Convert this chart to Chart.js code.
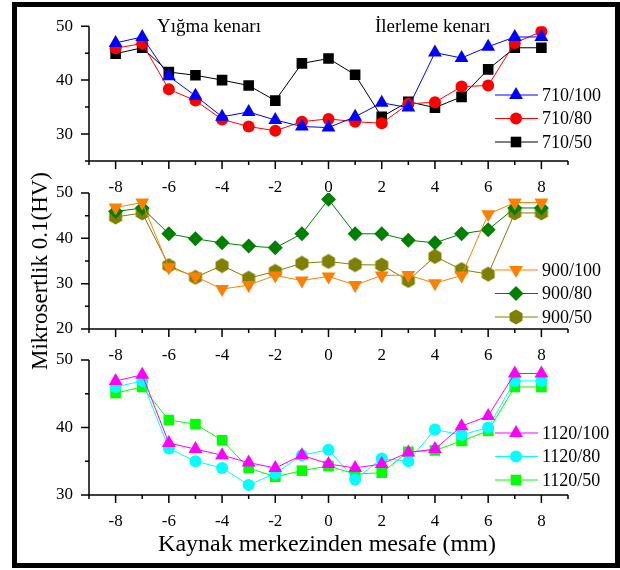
<!DOCTYPE html>
<html>
<head>
<meta charset="utf-8">
<script src="https://cdn.jsdelivr.net/npm/chart.js@4.4.0/dist/chart.umd.min.js"></script>
<style>
  body { margin: 0; background: #fff; }
  #page { position: relative; width: 620px; height: 570px; overflow: hidden; font-family: 'Liberation Serif', 'Times New Roman', serif; color: #000; }
  #page canvas { position: absolute; left: 0; top: 0; }
  .frame { position: absolute; left: 12px; top: 2px; width: 608px; height: 566px; border: 5px solid #000; box-sizing: border-box; }
  .note { position: absolute; font-size: 19px; line-height: 22px; white-space: nowrap; }
  .xtitle { position: absolute; left: 0; width: 654px; top: 529px; text-align: center; font-size: 24px; line-height: 28px; }
  .ytitle { position: absolute; left: 40px; top: 271px; font-size: 23px; line-height: 26px; white-space: nowrap; transform: translate(-50%, -50%) rotate(-90deg); }
</style>
</head>
<body>
<div id="page">
  <canvas id="p1" width="620" height="570"></canvas>
  <canvas id="p2" width="620" height="570"></canvas>
  <canvas id="p3" width="620" height="570"></canvas>
  <div class="note" style="left:157px; top:15px;">Yığma kenarı</div>
  <div class="note" style="left:375px; top:15px;">İlerleme kenarı</div>
  <div class="ytitle">Mikrosertlik 0.1(HV)</div>
  <div class="xtitle">Kaynak merkezinden mesafe (mm)</div>
  <div class="frame"></div>
</div>
<script>
// DATA
const positions = [-8, -7, -6, -5, -4, -3, -2, -1, 0, 1, 2, 3, 4, 5, 6, 7, 8];
const xTickValues = [-8, -6, -4, -2, 0, 2, 4, 6, 8];

const hv710_100 = [46.9, 48.0, 40.7, 37.1, 33.2, 34.1, 32.6, 31.4, 31.2, 33.2, 35.8, 34.9, 45.1, 44.1, 46.2, 48.0, 48.0];
const hv710_80  = [45.9, 46.8, 38.3, 36.2, 32.7, 31.4, 30.6, 32.3, 32.8, 32.3, 32.0, 35.6, 35.9, 38.8, 39.0, 46.9, 49.0];
const hv710_50  = [44.9, 46.0, 41.5, 40.9, 40.0, 39.0, 36.2, 43.1, 44.0, 41.0, 33.2, 36.0, 34.9, 36.9, 42.0, 46.0, 46.0];

const hv900_100 = [46.8, 47.9, 33.6, 31.6, 28.8, 29.7, 31.8, 30.7, 31.6, 29.7, 31.8, 31.9, 30.1, 31.8, 45.3, 47.9, 47.9];
const hv900_80  = [45.9, 46.7, 41.0, 39.9, 39.0, 38.3, 37.9, 41.0, 48.6, 41.0, 41.0, 39.6, 39.0, 41.0, 41.9, 46.7, 46.7];
const hv900_50  = [44.7, 45.6, 34.0, 31.4, 34.0, 31.2, 32.7, 34.5, 34.9, 34.2, 34.1, 30.7, 36.0, 33.1, 32.1, 45.6, 45.6];

const hv1120_100 = [46.9, 47.8, 37.7, 36.8, 35.9, 34.8, 34.0, 35.9, 34.6, 34.0, 34.6, 36.3, 36.8, 40.2, 41.7, 48.0, 48.0];
const hv1120_80  = [46.0, 46.9, 36.9, 35.0, 34.0, 31.5, 33.2, 35.9, 36.7, 32.3, 35.4, 35.0, 39.7, 38.9, 40.0, 46.9, 46.9];
const hv1120_50  = [45.1, 46.0, 41.1, 40.5, 38.1, 34.0, 32.7, 33.6, 34.3, 33.1, 33.3, 36.4, 36.6, 38.0, 39.5, 46.0, 46.0];

const yTicksTop = [30, 40, 50];
const yTicksMid = [20, 30, 40, 50];
const yTicksBot = [30, 40, 50];

Chart.defaults.font.family = "'Liberation Serif', 'Times New Roman', serif";
Chart.defaults.font.size = 17;
Chart.defaults.color = '#000';

// hexagon marker for 900/50
const hexagon = document.createElement('canvas');
hexagon.width = 16; hexagon.height = 16;
(() => {
    const c = hexagon.getContext('2d');
    c.fillStyle = '#808000';
    c.beginPath();
    for (let i = 0; i < 6; i++) {
        const a = Math.PI / 3 * i;
        const px = 8 + Math.sin(a) * 7.5, py = 8 - Math.cos(a) * 7.5;
        i ? c.lineTo(px, py) : c.moveTo(px, py);
    }
    c.closePath();
    c.fill();
})();

const toPoints = values => values.map((v, i) => ({ x: positions[i], y: v }));

const series = (label, values, color, style, radius, rotation) => ({
    label: label,
    data: toPoints(values),
    borderColor: color,
    backgroundColor: color,
    borderWidth: 1,
    pointStyle: style,
    pointRadius: radius,
    pointHoverRadius: radius,
    pointRotation: rotation || 0,
    pointBorderWidth: 0,
    tension: 0
});

// axis lines plus major/minor tick marks
const axisFrame = {
    id: 'axisFrame',
    afterDraw(chart) {
        const { ctx, chartArea: a, scales: { x, y } } = chart;
        ctx.save();
        ctx.strokeStyle = '#000';
        ctx.lineWidth = 1.5;
        ctx.beginPath();
        ctx.moveTo(a.left, a.top);
        ctx.lineTo(a.left, a.bottom);
        ctx.lineTo(a.right, a.bottom);
        for (let v = -9; v <= 9; v++) {
            const px = x.getPixelForValue(v);
            ctx.moveTo(px, a.bottom);
            ctx.lineTo(px, a.bottom + (v % 2 === 0 ? 8 : 4));
        }
        for (let v = y.min; v <= y.max; v += 5) {
            const py = y.getPixelForValue(v);
            ctx.moveTo(a.left, py);
            ctx.lineTo(a.left - (v % 10 === 0 ? 8 : 4), py);
        }
        ctx.stroke();
        ctx.restore();
    }
};

// legend drawn at the right: line sample with marker in the middle
const sideLegend = {
    id: 'sideLegend',
    afterDraw(chart, args, opts) {
        const ctx = chart.ctx;
        ctx.save();
        chart.data.datasets.forEach((ds, i) => {
            const yy = opts.top + i * opts.gap;
            ctx.strokeStyle = ds.borderColor;
            ctx.lineWidth = 1;
            ctx.beginPath();
            ctx.moveTo(495, yy);
            ctx.lineTo(538, yy);
            ctx.stroke();
            ctx.fillStyle = ds.backgroundColor;
            Chart.helpers.drawPoint(ctx, {
                pointStyle: ds.pointStyle,
                radius: ds.pointRadius,
                rotation: ds.pointRotation,
                borderWidth: 0
            }, 516, yy);
            ctx.fillStyle = '#000';
            ctx.font = "18px 'Liberation Serif', 'Times New Roman', serif";
            ctx.textBaseline = 'middle';
            ctx.textAlign = 'left';
            ctx.fillText(ds.label, 542, yy + 1);
        });
        ctx.restore();
    }
};

const makePanel = (id, datasets, yMin, yTicks, top, bottom, legendTop) => new Chart(document.getElementById(id), {
    type: 'line',
    data: { datasets: datasets },
    options: {
        responsive: false,
        animation: false,
        events: [],
        layout: { padding: { left: 0, right: 52, top: top, bottom: 570 - bottom - 40 } },
        scales: {
            x: {
                type: 'linear', min: -9, max: 9,
                afterBuildTicks: s => { s.ticks = xTickValues.map(v => ({ value: v })); },
                afterFit: s => { s.height = 40; },
                grid: { display: false, drawTicks: false },
                border: { display: false },
                ticks: { padding: 16, maxRotation: 0, autoSkip: false }
            },
            y: {
                min: yMin, max: 50,
                afterBuildTicks: s => { s.ticks = yTicks.map(v => ({ value: v })); },
                afterFit: s => { s.width = 89; },
                grid: { display: false, drawTicks: false },
                border: { display: false },
                ticks: { padding: 16 }
            }
        },
        plugins: {
            legend: { display: false },
            tooltip: { enabled: false },
            sideLegend: { top: legendTop, gap: 23.5 }
        }
    },
    plugins: [axisFrame, sideLegend]
});

makePanel('p1', [
    series('710/100', hv710_100, '#0000ff', 'triangle', 8),
    series('710/80', hv710_80, '#ff0000', 'circle', 6),
    series('710/50', hv710_50, '#000000', 'rect', 7.5)
], 25, yTicksTop, 26, 161, 95);

makePanel('p2', [
    series('900/100', hv900_100, '#ff8000', 'triangle', 8, 180),
    series('900/80', hv900_80, '#008000', 'rectRot', 7.5),
    series('900/50', hv900_50, '#808000', hexagon, 7)
], 20, yTicksMid, 193, 329, 270);

makePanel('p3', [
    series('1120/100', hv1120_100, '#ff00ff', 'triangle', 8),
    series('1120/80', hv1120_80, '#00ffff', 'circle', 6),
    series('1120/50', hv1120_50, '#00ff00', 'rect', 7.5)
], 30, yTicksBot, 360, 495, 433);
</script>
</body>
</html>
